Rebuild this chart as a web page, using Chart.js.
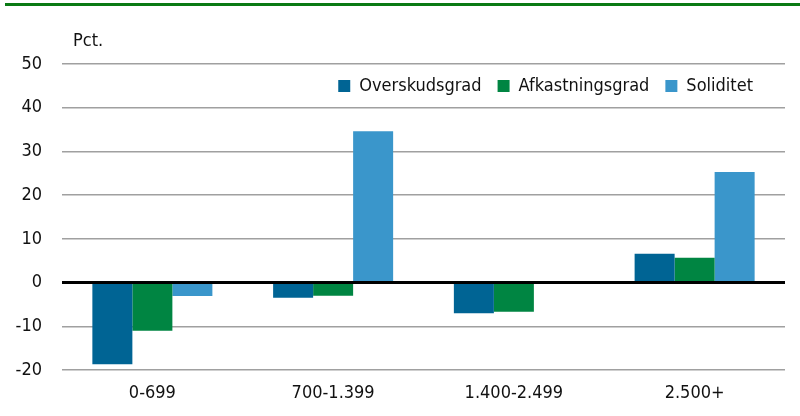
<!DOCTYPE html>
<html lang="da">
<head>
  <meta charset="UTF-8" />
  <title>Nøgletal efter størrelse</title>
  <script src="https://cdn.jsdelivr.net/npm/chart.js"></script>
  <style>
    html, body {
      margin: 0;
      padding: 0;
      background: #fff;
    }
    .wrap {
      position: relative;
      width: 800px;
      height: 416px;
    }
  </style>
</head>
<body>
  <div class="wrap">
    <canvas id="chart" width="800" height="416"></canvas>
  </div>

  <script>
    const categories = ["0-699", "700-1.399", "1.400-2.499", "2.500+"];
    const overskudsgrad = [-18.7, -3.5, -7.0, 6.6];
    const afkastningsgrad = [-11.0, -3.0, -6.7, 5.7];
    const soliditet = [-3.1, 34.6, null, 25.3];
    const yTicks = [-20, -10, 0, 10, 20, 30, 40, 50];

    const FONT = "'DejaVu Sans Condensed', 'DejaVu Sans', sans-serif";
    const LEG_PAD = 16;

    // legend sits inside the plot, top right, under the 50 line
    const moveLegend = {
      id: 'moveLegend',
      afterLayout(chart) {
        const lg = chart.legend;
        if (!lg) return;
        const top = 86 - LEG_PAD - 9;
        const right = 753 + LEG_PAD;
        lg.top = top;
        lg.bottom = top + lg.height;
        lg.left = right - lg.width;
        lg.right = right;
      }
    };

    // green rule at the top and the "Pct." unit label
    const decor = {
      id: 'decor',
      afterDraw(chart) {
        const c = chart.ctx;
        c.save();
        c.fillStyle = '#0a7a14';
        c.fillRect(5, 3, 795, 3);
        c.fillStyle = '#111';
        c.font = '18px ' + FONT;
        c.textBaseline = 'middle';
        c.textAlign = 'left';
        c.fillText('Pct.', 73, 41);
        c.restore();
      }
    };

    new Chart(document.getElementById('chart'), {
      type: 'bar',
      data: {
        labels: categories,
        datasets: [
          { label: 'Overskudsgrad', data: overskudsgrad, backgroundColor: '#006494' },
          { label: 'Afkastningsgrad', data: afkastningsgrad, backgroundColor: '#008542' },
          { label: 'Soliditet', data: soliditet, backgroundColor: '#3a96cb' }
        ]
      },
      options: {
        responsive: false,
        animation: false,
        layout: { padding: { top: 20, right: 15, left: 0, bottom: 0 } },
        datasets: {
          bar: { barPercentage: 1, categoryPercentage: 0.664 }
        },
        plugins: {
          legend: {
            position: 'top',
            align: 'end',
            fullSize: false,
            labels: {
              font: { family: FONT, size: 18 },
              color: '#111',
              boxWidth: 12,
              boxHeight: 12,
              padding: LEG_PAD
            }
          },
          tooltip: { enabled: false }
        },
        scales: {
          x: {
            afterFit(scale) { scale.height = 46; },
            grid: { display: false, drawTicks: false },
            border: { display: false },
            ticks: {
              font: { family: FONT, size: 18 },
              color: '#111',
              padding: 13
            }
          },
          y: {
            min: -20,
            max: 50,
            afterFit(scale) { scale.width = 62; },
            afterBuildTicks(scale) { scale.ticks = yTicks.map(v => ({ value: v })); },
            grid: {
              drawTicks: false,
              color: ctx => ctx.tick && ctx.tick.value === 0 ? '#000' : '#a0a0a0',
              lineWidth: ctx => ctx.tick && ctx.tick.value === 0 ? 3 : 1.5
            },
            border: { display: false },
            ticks: {
              font: { family: FONT, size: 18 },
              color: '#111',
              padding: 20
            }
          }
        }
      },
      plugins: [moveLegend, decor]
    });
  </script>
</body>
</html>
